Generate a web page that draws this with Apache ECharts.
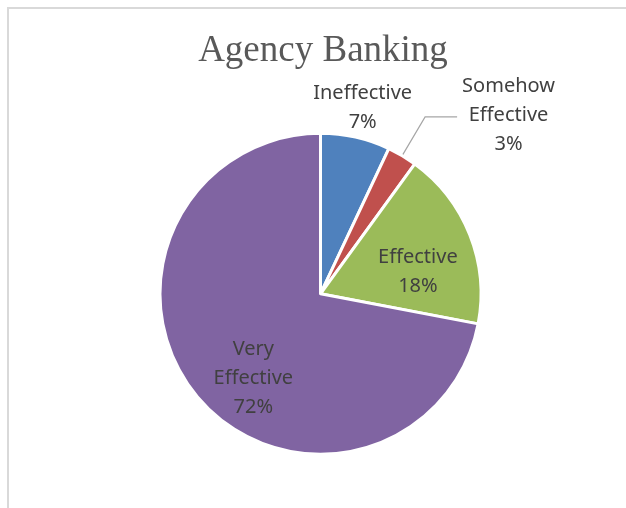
<!DOCTYPE html>
<html>
<head>
<meta charset="utf-8">
<script src="https://cdn.jsdelivr.net/npm/echarts@6/dist/echarts.min.js"></script>
<style>
  html, body { margin: 0; padding: 0; background: #ffffff; }
  #frame { position: absolute; left: 7px; top: 7px; width: 640px; height: 520px;
           border-left: 2px solid #d9d9d9; border-top: 2px solid #d9d9d9; }
  #chart { position: absolute; left: 0; top: 0; width: 626px; height: 508px; }
</style>
</head>
<body>
<div id="frame"></div>
<div id="chart"></div>
<script>
const titleText = 'Agency Banking';
const categories = ['Ineffective', 'Somehow Effective', 'Effective', 'Very Effective'];
const labelLines = [['Ineffective'], ['Somehow', 'Effective'], ['Effective'], ['Very', 'Effective']];
const values = [7, 3, 18, 72];
const colors = ['#4f81bd', '#c0504d', '#9bbb59', '#8064a2'];

const labelShift = [
  { dx: 24, dy: -105 },
  { dx: 0, dy: -2 },
  { dx: 20, dy: 9 },
  { dx: -3, dy: 31 }
];

const chart = echarts.init(document.getElementById('chart'), null, { renderer: 'canvas' });

const baseLabel = {
  fontFamily: 'Noto Sans',
  fontSize: 20,
  color: '#404040',
  lineHeight: 29,
  rich: { c: { fontFamily: 'Noto Sans', fontSize: 20, color: '#404040', lineHeight: 29, align: 'center' } }
};

function fmt(p) {
  const lines = labelLines[p.dataIndex].concat([p.value + '%']);
  return lines.map(s => '{c|' + s + '}').join('\n');
}

const data = categories.map((name, i) => ({
  name: name,
  value: values[i],
  itemStyle: { color: colors[i] },
  label: Object.assign({}, baseLabel, {
    show: true,
    position: i === 1 ? 'outside' : 'inside',
    formatter: fmt,
    distanceToLabelLine: 5
  }),
  labelLine: i === 1
    ? { show: true, length: 45, length2: 32, lineStyle: { color: '#a6a6a6', width: 1.2 } }
    : { show: false }
}));

chart.setOption({
  animation: false,
  backgroundColor: 'transparent',
  title: {
    text: titleText,
    left: 318,
    textAlign: 'center',
    top: 28,
    textStyle: { fontFamily: 'Liberation Serif', fontSize: 37, fontWeight: 'normal', color: '#595959' }
  },
  series: [{
    type: 'pie',
    center: [320.5, 293.8],
    radius: [0, 160.5],
    startAngle: 90,
    clockwise: true,
    avoidLabelOverlap: false,
    itemStyle: { borderColor: '#ffffff', borderWidth: 3 },
    emphasis: { disabled: true },
    labelLayout: function (params) {
      const s = labelShift[params.dataIndex];
      return s.dx || s.dy ? { dx: s.dx, dy: s.dy } : {};
    },
    data: data
  }]
});
</script>
</body>
</html>
